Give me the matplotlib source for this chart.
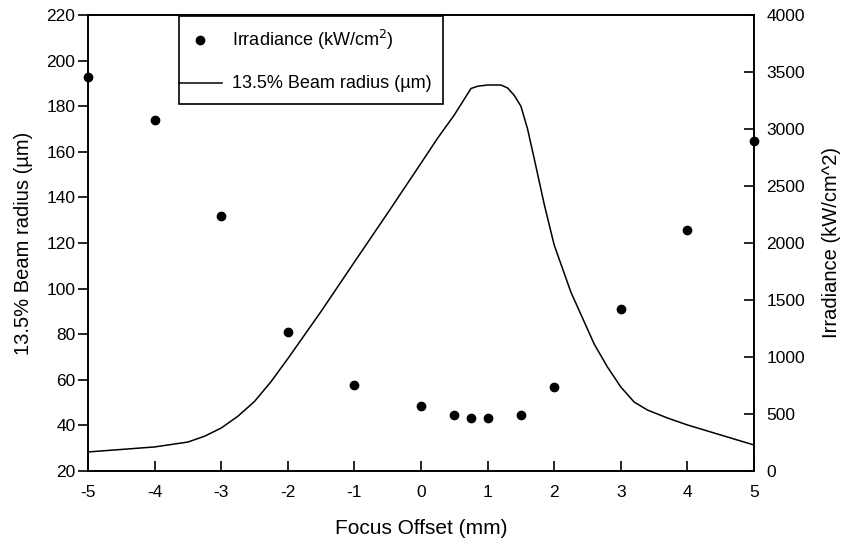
import matplotlib
matplotlib.use('Agg')
import matplotlib.pyplot as plt
from matplotlib.lines import Line2D
from matplotlib.patches import Rectangle

plt.rcParams['font.family'] = ['Liberation Sans', 'DejaVu Sans']
plt.rcParams['axes.unicode_minus'] = False

# measured points (plotted against the left axis)
offset_pts = [-5, -4, -3, -2, -1, 0, 0.5, 0.75, 1, 1.5, 2, 3, 4, 5]
dot_vals = [192.8, 174, 131.8, 81, 57.7, 48.5, 44.6, 43.2, 43.2, 44.6, 56.8, 91, 125.7, 164.7]

# curve (plotted against the right axis)
offset_line = [-5, -4, -3.5, -3.25, -3, -2.75, -2.5, -2.25, -2, -1.5, -1, -0.5, 0, 0.25, 0.5,
               0.75, 0.85, 1.0, 1.2, 1.3, 1.4, 1.5, 1.6, 1.7, 1.85, 2.0, 2.25, 2.6, 2.8, 3.0,
               3.2, 3.4, 3.7, 4.0, 5.0]
line_vals = [167, 211, 254, 305, 377, 480, 610, 785, 985, 1400, 1833, 2263, 2700, 2920, 3123,
             3355, 3375, 3386, 3386, 3360, 3295, 3200, 3000, 2740, 2340, 1982, 1570, 1114, 912, 737,
             605, 535, 465, 404, 228]

left_ticks = [20, 40, 60, 80, 100, 120, 140, 160, 180, 200, 220]
right_ticks = [0, 500, 1000, 1500, 2000, 2500, 3000, 3500, 4000]
x_ticks = [-5, -4, -3, -2, -1, 0, 1, 2, 3, 4, 5]

W, H = 845, 545
fig = plt.figure(figsize=(W / 100, H / 100), dpi=100)
ax = fig.add_axes([88 / W, 1 - 471 / H, (754 - 88) / W, (471 - 15) / H])
ax2 = ax.twinx()

ax.plot(offset_pts, dot_vals, 'o', color='black', markersize=6, clip_on=False, zorder=5)
ax2.plot(offset_line, line_vals, '-', color='black', linewidth=1.1)
ax.set_zorder(ax2.get_zorder() + 1)
ax.patch.set_visible(False)

ax.set_xlim(-5, 5)
ax.set_ylim(20, 220)
ax2.set_ylim(0, 4000)
ax.set_xticks(x_ticks)
ax.set_yticks(left_ticks)
ax2.set_yticks(right_ticks)

for a in (ax, ax2):
    for s in a.spines.values():
        s.set_linewidth(1.2)
ax.tick_params(axis='x', direction='in', length=7, width=1.2, labelsize=12.5, pad=10)
ax.tick_params(axis='y', direction='out', length=7, width=1.2, labelsize=12.5, pad=2)
ax2.tick_params(axis='y', direction='in', length=7, width=1.2, labelsize=12.5, pad=9)

ax.set_xlabel('Focus Offset (mm)', fontsize=15, labelpad=14)
ax.set_ylabel('13.5% Beam radius (µm)', fontsize=14.5, labelpad=10)
ax2.set_ylabel('Irradiance (kW/cm^2)', fontsize=14.5, labelpad=12)

# legend box drawn by hand (pixel positions -> figure fraction)
def fx(px):
    return px / W

def fy(py):
    return 1 - py / H

fig.patches.append(Rectangle((fx(179), fy(104)), fx(443) - fx(179), fy(16) - fy(104),
                             transform=fig.transFigure, facecolor='white', edgecolor='black',
                             linewidth=1.2, zorder=10))
fig.lines.append(Line2D([fx(200)], [fy(40)], marker='o', color='black', markersize=6,
                        linestyle='none', transform=fig.transFigure, zorder=11))
fig.lines.append(Line2D([fx(179), fx(222)], [fy(83), fy(83)], color='black', linewidth=1.1,
                        transform=fig.transFigure, zorder=11))
fig.text(fx(232), fy(40), 'Irradiance (kW/cm$^2$)', fontsize=13, va='center', zorder=12)
fig.text(fx(232), fy(83), '13.5% Beam radius (µm)', fontsize=13, va='center', zorder=12)

plt.savefig('out.png', dpi=100)
